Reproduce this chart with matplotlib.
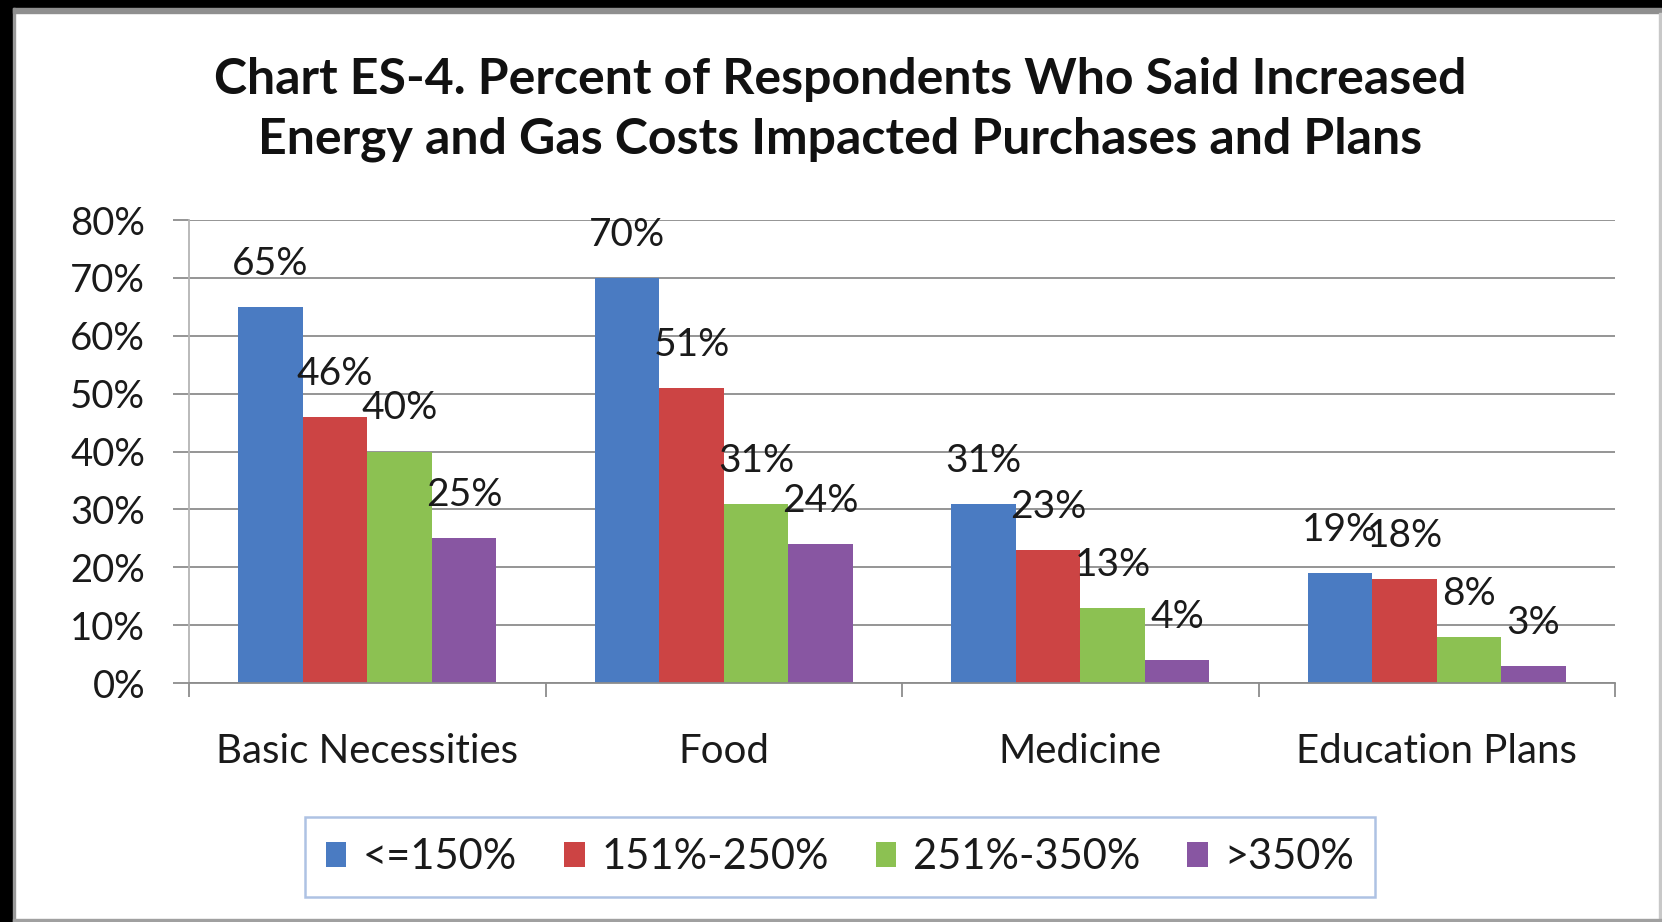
import matplotlib.pyplot as plt
from matplotlib.patches import Rectangle
import numpy as np

plt.rcParams['font.family'] = ['Lato', 'DejaVu Sans']

# chart data
categories = ['Basic Necessities', 'Food', 'Medicine', 'Education Plans']
groups = ['<=150%', '151%-250%', '251%-350%', '>350%']
poverty_150 = [65, 70, 31, 19]
poverty_250 = [46, 51, 23, 18]
poverty_350 = [40, 31, 13, 8]
poverty_over = [25, 24, 4, 3]
y_ticks = [0, 10, 20, 30, 40, 50, 60, 70, 80]

series = [poverty_150, poverty_250, poverty_350, poverty_over]
colors = ['#4a7bc2', '#cc4444', '#8cc152', '#8856a2']

W, H = 1662, 922
fig = plt.figure(figsize=(W / 100, H / 100), dpi=100)
ax = fig.add_axes([189 / W, 1 - 683 / H, (1615 - 189) / W, (683 - 220) / H])

x = np.arange(len(categories))
bw = 0.181
for i, (vals, col, name) in enumerate(zip(series, colors, groups)):
    pos = x + (i - 1.5) * bw
    ax.bar(pos, vals, width=bw, color=col, label=name, zorder=2)
    for px, v in zip(pos, vals):
        ax.annotate(f'{v}%', (px, v), xytext=(0, 31), textcoords='offset points',
                    ha='center', va='center', fontsize=28, color='#1a1a1a', zorder=3)

ax.set_xlim(-0.5, 3.5)
ax.set_ylim(0, 80)
ax.set_yticks(y_ticks)
ax.set_yticklabels([f'{t}%' for t in y_ticks], fontsize=27.5, color='#1a1a1a')
ax.yaxis.grid(True, color='#8c8c8c', linewidth=1.3, zorder=0)
ax.tick_params(axis='y', length=11.5, width=1.3, color='#8c8c8c', pad=20)

ax.set_xticks(np.arange(-0.5, 4, 1))
ax.set_xticklabels([])
ax.set_xticks(x, minor=True)
ax.set_xticklabels(categories, minor=True, fontsize=29, color='#1a1a1a')
ax.tick_params(axis='x', which='major', length=10, width=1.3, color='#8c8c8c')
ax.tick_params(axis='x', which='minor', length=0, pad=36)

for s in ['top', 'right']:
    ax.spines[s].set_visible(False)
ax.spines['left'].set_color('#b4b4b4')
ax.spines['left'].set_linewidth(1.3)
ax.spines['bottom'].set_color('#8c8c8c')
ax.spines['bottom'].set_linewidth(1.3)
ax.set_axisbelow(True)

fig.text(840 / W, 1 - 79 / H, 'Chart ES-4. Percent of Respondents Who Said Increased',
         ha='center', va='center', fontsize=36, fontweight='bold', color='#111111')
fig.text(840 / W, 1 - 139 / H, 'Energy and Gas Costs Impacted Purchases and Plans',
         ha='center', va='center', fontsize=36, fontweight='bold', color='#111111')

leg = fig.legend(loc='center', bbox_to_anchor=(840 / W, 1 - 857 / H), ncol=4,
                 fontsize=30, frameon=True, fancybox=False, handlelength=0.5,
                 handleheight=0.55, handletextpad=0.4, columnspacing=1.12,
                 borderpad=0.5, borderaxespad=0, labelcolor='#1a1a1a')
leg.get_frame().set_edgecolor('#9ab3dd')
leg.get_frame().set_linewidth(1.8)

# outer frame
fig.patches.append(Rectangle((0, 0), 13 / W, 1, transform=fig.transFigure, color='black', zorder=10))
fig.patches.append(Rectangle((0, 1 - 8 / H), 1, 8 / H, transform=fig.transFigure, color='black', zorder=10))
fig.patches.append(Rectangle((13 / W, 0), 2 / W, 1 - 8 / H, transform=fig.transFigure, color='#999999', zorder=10))
fig.patches.append(Rectangle((13 / W, 1 - 13 / H), 1, 5 / H, transform=fig.transFigure, color='#8f8f8f', zorder=10))
fig.patches.append(Rectangle((1659 / W, 0), 3 / W, 1 - 13 / H, transform=fig.transFigure, color='#c8c8c8', zorder=10))
fig.patches.append(Rectangle((13 / W, 0), 1, 3 / H, transform=fig.transFigure, color='#a0a0a0', zorder=10))

fig.savefig('out.png', dpi=100)
